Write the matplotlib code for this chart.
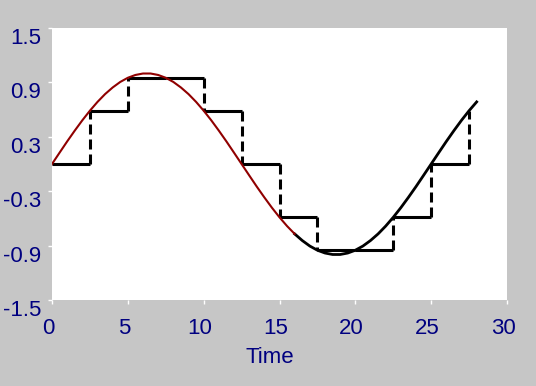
import matplotlib
matplotlib.use("Agg")
import matplotlib.pyplot as plt
from matplotlib.transforms import ScaledTranslation

plt.rcParams['font.family'] = ['Liberation Sans', 'DejaVu Sans']
plt.rcParams['lines.scale_dashes'] = False

# Continuous signal (0.5 time steps)
curve_t = [0, 0.5, 1, 1.5, 2, 2.5, 3, 3.5, 4, 4.5, 5, 5.5, 6, 6.5, 7, 7.5, 8, 8.5,
           9, 9.5, 10, 10.5, 11, 11.5, 12, 12.5, 13, 13.5, 14, 14.5, 15, 15.5, 16,
           16.5, 17, 17.5, 18, 18.5, 19, 19.5, 20, 20.5, 21, 21.5, 22, 22.5, 23,
           23.5, 24, 24.5, 25, 25.5, 26, 26.5, 27, 27.5, 28]
curve_y = [0.0, 0.125, 0.249, 0.368, 0.482, 0.588, 0.685, 0.771, 0.844, 0.905, 0.951,
           0.982, 0.998, 0.998, 0.982, 0.951, 0.905, 0.844, 0.771, 0.685, 0.588, 0.482,
           0.368, 0.249, 0.125, 0.0, -0.125, -0.249, -0.368, -0.482, -0.588, -0.685,
           -0.771, -0.844, -0.905, -0.951, -0.982, -0.998, -0.998, -0.982, -0.951,
           -0.905, -0.844, -0.771, -0.685, -0.588, -0.482, -0.368, -0.249, -0.125,
           0.0, 0.125, 0.249, 0.368, 0.482, 0.588, 0.685]
red_end_t = 16  # red portion up to here, black afterwards

# Sampled / held signal
sample_t = [0, 2.5, 5, 7.5, 10, 12.5, 15, 17.5, 20, 22.5, 25, 27.5]
sample_y = [0.0, 0.588, 0.951, 0.951, 0.588, 0.0, -0.588, -0.951, -0.951, -0.588, 0.0, 0.588]

xticks = [0, 5, 10, 15, 20, 25, 30]
yticks = [-1.5, -0.9, -0.3, 0.3, 0.9, 1.5]
ytick_labels = ["-1.5", "-0.9", "-0.3", "0.3", "0.9", "1.5"]

W, H = 536, 386
fig = plt.figure(figsize=(W / 100, H / 100), dpi=100, facecolor='#c6c6c6')
ax = fig.add_axes([52 / W, (H - 300) / H, 455 / W, 272 / H])
ax.set_facecolor('white')

navy = '#000080'

# Steps: horizontals solid, verticals dashed
ax.hlines(sample_y[:-1], sample_t[:-1], sample_t[1:], colors='black', linewidth=2.2, zorder=2)
vt, v0, v1 = [], [], []
for i in range(1, len(sample_t)):
    if sample_y[i] != sample_y[i - 1]:
        vt.append(sample_t[i]); v0.append(sample_y[i - 1]); v1.append(sample_y[i])
vl = ax.vlines(vt, v0, v1, colors='black', linewidth=2.2, zorder=2)
vl.set_linestyle((0, (7.2, 3.6)))
vl.set_capstyle('butt')

# Continuous curve
red_t = [t for t in curve_t if t <= red_end_t]
red_y = curve_y[:len(red_t)]
blk_t = curve_t[len(red_t) - 1:]
blk_y = curve_y[len(red_t) - 1:]
ax.plot(blk_t, blk_y, color='black', linewidth=2.0, zorder=3)
ax.plot(red_t, red_y, color='#900000', linewidth=1.5, zorder=3)

ax.set_xlim(0, 30)
ax.set_ylim(-1.5, 1.5)
ax.set_xticks(xticks)
ax.set_yticks(yticks)
ax.set_yticklabels(ytick_labels)
for s in ax.spines.values():
    s.set_visible(False)
ax.tick_params(axis='both', direction='out', length=3, width=1, color='white',
               labelcolor=navy, labelsize=16)
ax.tick_params(axis='x', pad=10)
ax.tick_params(axis='y', pad=5)
for lab in ax.get_yticklabels():
    lab.set_verticalalignment('top')
off = ScaledTranslation(-4 / 100, 0, fig.dpi_scale_trans)
for lab in ax.get_xticklabels():
    lab.set_transform(lab.get_transform() + off)

ax.set_xlabel('Time', color=navy, fontsize=16, va='top')
ax.xaxis.set_label_coords((270 - 52) / 455, (300 - 347) / 272)

fig.savefig('out.png', dpi=100, facecolor=fig.get_facecolor())
